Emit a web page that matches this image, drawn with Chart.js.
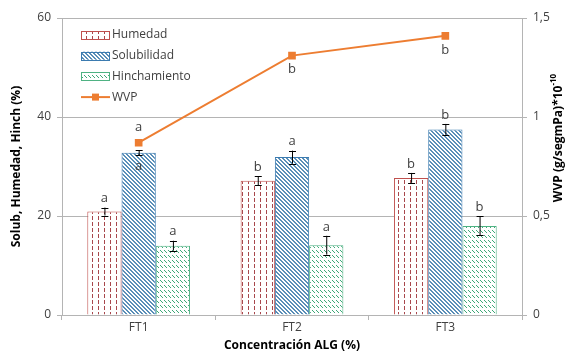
<!DOCTYPE html>
<html>
<head>
<meta charset="utf-8">
<script src="https://cdn.jsdelivr.net/npm/chart.js@4/dist/chart.umd.min.js"></script>
<style>
  html, body { margin: 0; padding: 0; background: #fff; }
  canvas { display: block; }
</style>
</head>
<body>
<canvas id="grafico" width="573" height="354"></canvas>
<script>
// datos por formulación
const categorias = ['FT1', 'FT2', 'FT3'];
const humedad = [20.9, 27.1, 27.7];
const humedadErr = [0.8, 0.9, 1.0];
const solubilidad = [32.8, 31.9, 37.5];
const solubilidadErr = [0.5, 1.3, 1.1];
const hinchamiento = [14.0, 14.1, 18.0];
const hinchamientoErr = [1.0, 1.9, 1.9];
const wvp = [0.87, 1.31, 1.41];

// letras de significancia
const humedadLetras = ['a', 'b', 'b'];
const solubilidadLetras = ['a', 'a', 'b'];
const hinchamientoLetras = ['a', 'a', 'b'];
const wvpLetras = ['a', 'b', 'b'];

const ticksIzq = [0, 20, 40, 60];
const ticksDer = [0, 0.5, 1, 1.5];

const FUENTE = "'Open Sans', sans-serif";
const GRIS = '#b4b4b4';
const TEXTO = '#404040';

// tramas de relleno
function trama(w, h, fondo, dibujar) {
    const c = document.createElement('canvas');
    c.width = w; c.height = h;
    const g = c.getContext('2d');
    g.fillStyle = fondo;
    g.fillRect(0, 0, w, h);
    dibujar(g);
    return document.getElementById('grafico').getContext('2d').createPattern(c, 'repeat');
}

const tramaHumedad = trama(6, 6, '#ffffff', g => {
    g.fillStyle = '#a8474c';
    g.fillRect(2, 0, 1, 4);
});
const tramaSolub = trama(4, 4, '#ffffff', g => {
    g.fillStyle = '#5a8fb8';
    for (let i = 0; i < 4; i++) {
        g.fillRect(i, i, 1, 1);
        g.fillRect((i + 1) % 4, i, 1, 1);
    }
});
const tramaHinch = trama(4, 5, '#ffffff', g => {
    g.fillStyle = '#3fa878';
    g.fillRect(0, 0, 1, 1);
    g.fillRect(1, 1, 1, 1);
    g.fillRect(2, 2, 1, 1);
});

const barras = [
    { label: 'Humedad', data: humedad, err: humedadErr, letras: humedadLetras, relleno: tramaHumedad, borde: '#c0504d', dentro: [false, false, false] },
    { label: 'Solubilidad', data: solubilidad, err: solubilidadErr, letras: solubilidadLetras, relleno: tramaSolub, borde: '#3b7bb0', dentro: [true, false, false] },
    { label: 'Hinchamiento', data: hinchamiento, err: hinchamientoErr, letras: hinchamientoLetras, relleno: tramaHinch, borde: '#4fb283', dentro: [false, false, false] }
];

const coma = v => String(v).replace('.', ',');

// barras de error y letras
const anotaciones = {
    id: 'anotaciones',
    afterDatasetsDraw(chart) {
        const ctx = chart.ctx;
        const y = chart.scales.y;
        ctx.save();
        ctx.font = '13px ' + FUENTE;
        ctx.textAlign = 'center';
        ctx.textBaseline = 'middle';
        barras.forEach((s, di) => {
            chart.getDatasetMeta(di).data.forEach((bar, i) => {
                const yA = y.getPixelForValue(s.data[i] + s.err[i]);
                const yB = y.getPixelForValue(s.data[i] - s.err[i]);
                ctx.strokeStyle = '#000';
                ctx.lineWidth = 1;
                ctx.beginPath();
                ctx.moveTo(bar.x + 0.5, yA); ctx.lineTo(bar.x + 0.5, yB);
                ctx.moveTo(bar.x - 3, Math.round(yA) + 0.5); ctx.lineTo(bar.x + 4, Math.round(yA) + 0.5);
                ctx.moveTo(bar.x - 3, Math.round(yB) + 0.5); ctx.lineTo(bar.x + 4, Math.round(yB) + 0.5);
                ctx.stroke();
                ctx.fillStyle = TEXTO;
                const ty = s.dentro[i] ? bar.y + 14 : yA - 9;
                ctx.fillText(s.letras[i], bar.x, ty);
            });
        });
        chart.getDatasetMeta(3).data.forEach((p, i) => {
            ctx.fillStyle = TEXTO;
            ctx.fillText(wvpLetras[i], p.x, i === 0 ? p.y - 15 : p.y + 14);
        });
        ctx.restore();
    },
    afterDraw(chart) {
        const ctx = chart.ctx;
        const a = chart.chartArea;
        ctx.save();
        // leyenda
        ctx.font = '12px ' + FUENTE;
        ctx.textBaseline = 'middle';
        ctx.textAlign = 'left';
        const x0 = a.left + 19, w = 29;
        barras.forEach((s, i) => {
            const yc = a.top + 17 + i * 20.7;
            ctx.fillStyle = s.relleno;
            ctx.fillRect(x0, yc - 4, w, 8);
            ctx.strokeStyle = s.borde;
            ctx.lineWidth = 1;
            ctx.strokeRect(x0 + 0.5, Math.round(yc - 4) + 0.5, w - 1, 8);
            ctx.fillStyle = TEXTO;
            ctx.fillText(s.label, x0 + w + 2, yc);
        });
        const yw = a.top + 17 + 3 * 20.7;
        ctx.strokeStyle = '#ed7d31';
        ctx.lineWidth = 2;
        ctx.beginPath();
        ctx.moveTo(x0, yw); ctx.lineTo(x0 + w, yw);
        ctx.stroke();
        ctx.fillStyle = '#ed7d31';
        ctx.fillRect(x0 + w / 2 - 3.5, yw - 3.5, 7, 7);
        ctx.fillStyle = TEXTO;
        ctx.fillText('WVP', x0 + w + 2, yw);

        // título del eje derecho
        ctx.translate(559, 138);
        ctx.rotate(-Math.PI / 2);
        const base = 'WVP (g/segmPa)*10';
        ctx.font = 'bold 12px ' + FUENTE;
        const wb = ctx.measureText(base).width;
        ctx.font = 'bold 8px ' + FUENTE;
        const ws = ctx.measureText('-10').width;
        const xi = -(wb + ws) / 2;
        ctx.fillStyle = '#000';
        ctx.font = 'bold 12px ' + FUENTE;
        ctx.fillText(base, xi, 0);
        ctx.font = 'bold 8px ' + FUENTE;
        ctx.fillText('-10', xi + wb, -5);
        ctx.restore();
    }
};

new Chart(document.getElementById('grafico'), {
    data: {
        labels: categorias,
        datasets: [
            ...barras.map(s => ({
                type: 'bar',
                label: s.label,
                data: s.data,
                backgroundColor: s.relleno,
                borderColor: s.borde,
                borderWidth: 1,
                yAxisID: 'y',
                order: 1,
                categoryPercentage: 0.67,
                barPercentage: 1
            })),
            {
                type: 'line',
                label: 'WVP',
                data: wvp,
                borderColor: '#ed7d31',
                backgroundColor: '#ed7d31',
                borderWidth: 2,
                pointStyle: 'rect',
                pointRadius: 4,
                yAxisID: 'y1',
                order: 0,
                tension: 0
            }
        ]
    },
    options: {
        responsive: false,
        animation: false,
        layout: { padding: { top: 18, left: 0, right: 0, bottom: 0 } },
        plugins: {
            legend: { display: false },
            tooltip: { enabled: false }
        },
        scales: {
            x: {
                grid: { drawOnChartArea: false, color: GRIS, tickLength: 5 },
                border: { color: GRIS },
                ticks: { color: TEXTO, font: { family: FUENTE, size: 12 }, padding: 0 },
                title: { display: true, text: 'Concentración ALG (%)', color: '#000', font: { family: FUENTE, size: 12, weight: 'bold' }, padding: { top: 0, bottom: 1 } },
                afterFit(s) { s.height = 39; }
            },
            y: {
                position: 'left',
                min: 0, max: 60,
                afterBuildTicks(s) { s.ticks = ticksIzq.map(v => ({ value: v })); },
                grid: { color: GRIS, tickLength: 5 },
                border: { color: GRIS },
                ticks: { color: TEXTO, font: { family: FUENTE, size: 12 }, padding: 6 },
                title: { display: true, text: 'Solub, Humedad, Hinch (%)', color: '#000', font: { family: FUENTE, size: 12, weight: 'bold' }, padding: { top: 9, bottom: 0 } },
                afterFit(s) { s.width = 62; }
            },
            y1: {
                position: 'right',
                min: 0, max: 1.5,
                afterBuildTicks(s) { s.ticks = ticksDer.map(v => ({ value: v })); },
                grid: { drawOnChartArea: false, color: GRIS, tickLength: 5 },
                border: { color: GRIS },
                ticks: { color: TEXTO, font: { family: FUENTE, size: 12 }, padding: 6, callback: v => coma(v) },
                afterFit(s) { s.width = 51; }
            }
        }
    },
    plugins: [anotaciones]
});
</script>
</body>
</html>
